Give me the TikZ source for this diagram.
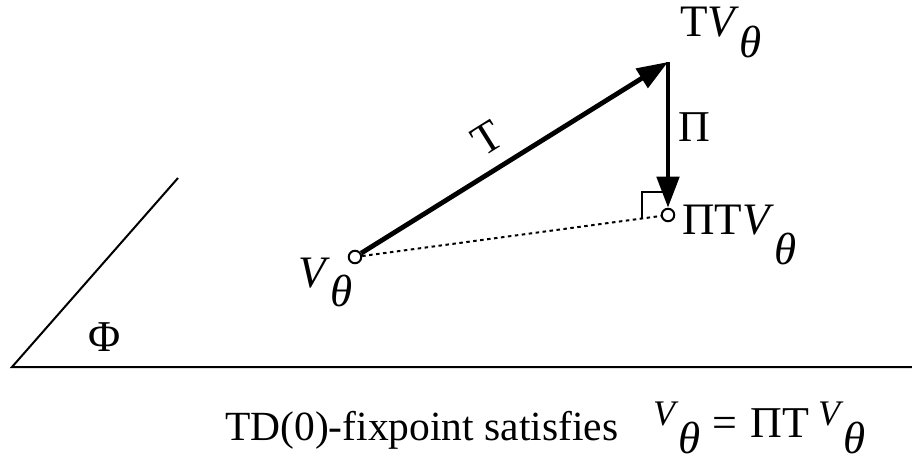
\documentclass[tikz,border=0pt]{standalone}
\usepackage{fontspec}
\setmainfont{Liberation Serif}
\usetikzlibrary{arrows.meta,calc}
\newcommand{\Vth}[1]{\textit{V}\raisebox{-#1pt}{\textit{θ}}}
\newcommand{\eqV}{\raisebox{12pt}{\fontsize{36}{40}\selectfont\textit{V}}\raisebox{-16pt}{\fontsize{45}{50}\selectfont\textit{θ}}}

\begin{document}
\begin{tikzpicture}[x=1pt, y=-1pt,
    big/.style={font=\fontsize{45}{54}\selectfont, inner sep=0pt},
    mid/.style={font=\fontsize{44}{52}\selectfont, inner sep=0pt},
    captxt/.style={font=\fontsize{41.5}{50}\selectfont, inner sep=0pt},
    pt/.style={circle, draw, fill=white, line width=2pt, minimum size=12.5pt, inner sep=0pt},
    vec/.style={line width=4.8pt, -{Triangle[length=31pt, width=22pt]}},
    thinline/.style={line width=2pt}]
    \useasboundingbox (0,0) rectangle (912,462);
    \coordinate (base0) at (12,367);
    \coordinate (baseR) at (912,367);
    \coordinate (slantT) at (178,178);
    \draw[thinline] (baseR) -- (base0) -- (slantT);
    \node[mid] (phi) at (105,337) {Φ};
    \coordinate (tv) at (668,62);
    \node[pt] (v) at (355,257) {};
    \node[pt] (ptv) at (668,215) {};
    \draw[line width=2pt, dash pattern=on 3.5pt off 3.5pt] (v) -- (ptv);
    \draw[thinline] (642,218) -- (642,192) -- (663,192);
    \draw[vec] (v) -- (tv);
    \draw[vec] (tv) -- (ptv);
    \node[mid, rotate=32] (tlbl) at (487,138) {T};
    \node[mid, anchor=base west] (pilbl) at (678,142) {Π};
    \node[big, anchor=base west] (vlbl) at (298,287) {\Vth{20}};
    \node[big, anchor=base west] (tvlbl) at (680,37) {T\Vth{21}};
    \node[big, anchor=base west] (ptvlbl) at (682,235) {ΠT\Vth{29}};
    \node[captxt, anchor=base west] (caption) at (225,440) {TD(0)-fixpoint satisfies};
    \node[mid, anchor=base west] (eq) at (653,437)
        {\eqV\hspace{12pt}=\hspace{13pt}ΠT\hspace{9pt}\eqV};
\end{tikzpicture}
\end{document}
